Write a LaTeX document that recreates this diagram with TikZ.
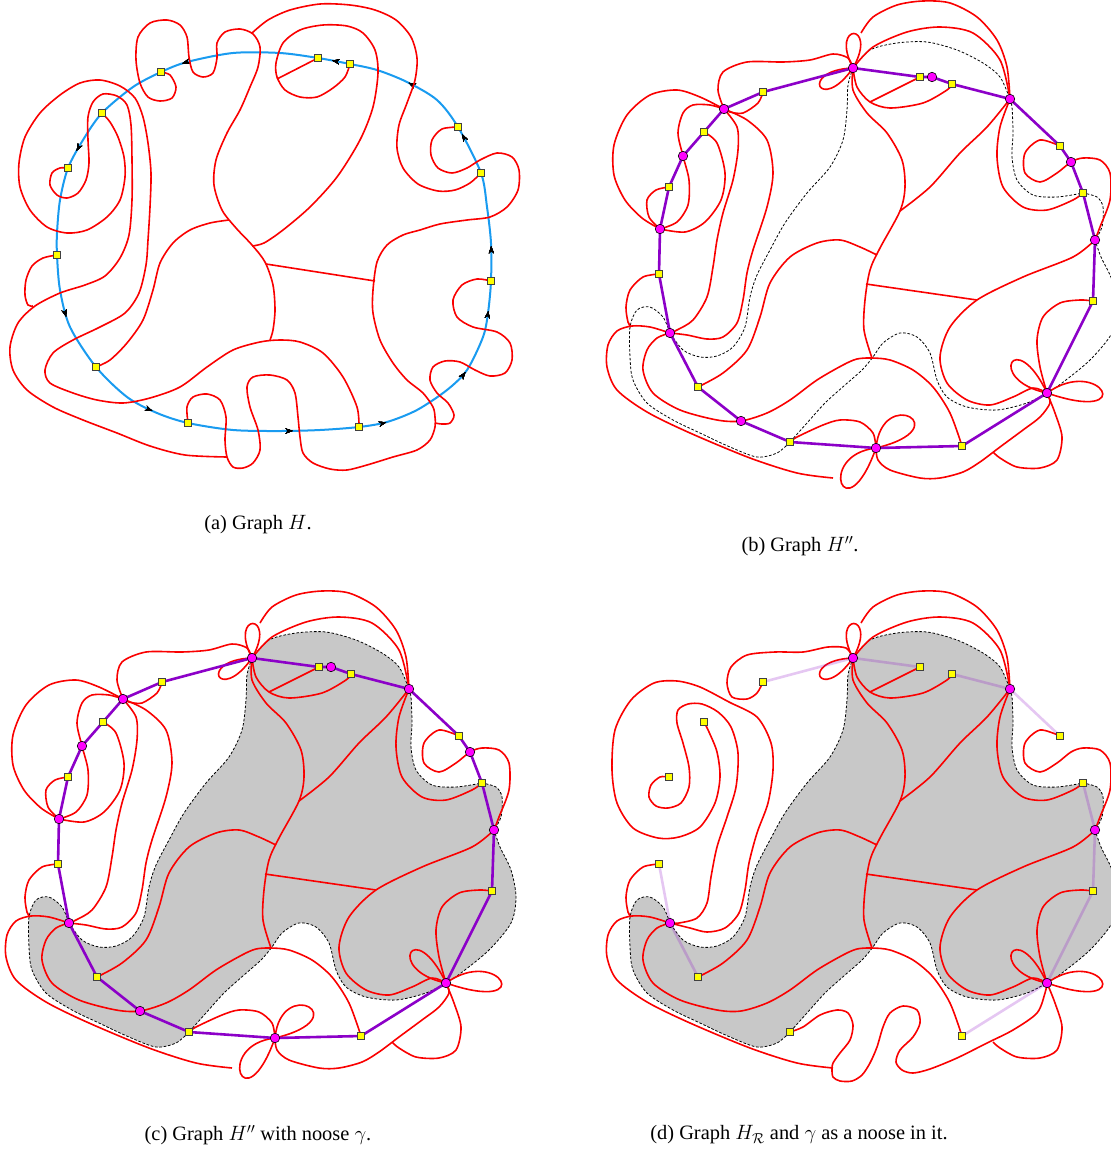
\documentclass[tikz,border=0pt]{standalone}
\usepackage{fontspec}
\setmainfont{Liberation Serif}
\usetikzlibrary{arrows.meta,decorations.markings}

\definecolor{edgered}{RGB}{250,0,0}
\definecolor{cycblue}{RGB}{25,155,240}
\definecolor{walkpurple}{RGB}{140,0,200}
\definecolor{noosegray}{RGB}{200,200,200}
\definecolor{vertpink}{RGB}{255,0,255}
\definecolor{sqyellow}{RGB}{255,255,0}

\tikzset{
  redc/.style={draw=edgered, line width=1.6pt},
  bluec/.style={draw=cycblue, line width=2pt},
  purpe/.style={draw=walkpurple, line width=2.6pt, line join=round},
  faintpurp/.style={draw=walkpurple, line width=2.6pt, draw opacity=0.22},
  noosel/.style={draw=black, line width=0.8pt, dash pattern=on 2.6pt off 1.8pt},
  pinkv/.style={circle, draw=black, fill=vertpink, inner sep=0pt, minimum size=9.5pt, line width=0.6pt},
  ysq/.style={rectangle, draw=black!75, fill=sqyellow, inner sep=0pt, minimum size=7pt, line width=0.6pt},
  capt/.style={font=\fontsize{20.4}{24}\selectfont, inner sep=0pt},
  tip/.style={decoration={markings,
    mark=at position #1 with {\arrow{Stealth[length=7pt,width=5pt,black]}}}, postaction={decorate}},
}

% vertex positions of the walk graph (panel frame of H'')
\newcommand\DefVerts[1]{%
  \coordinate (#1T) at (853,68);   \coordinate (#1y1) at (763,92);
  \coordinate (#1A) at (724,109);  \coordinate (#1y2) at (704,132);
  \coordinate (#1B) at (683,156);  \coordinate (#1y3) at (669,187);
  \coordinate (#1C) at (660,229);  \coordinate (#1y4) at (659,274);
  \coordinate (#1D) at (670,333);  \coordinate (#1y5) at (698,387);
  \coordinate (#1E) at (741,421);  \coordinate (#1y6) at (790,442);
  \coordinate (#1F) at (876,448);  \coordinate (#1y7) at (962,446);
  \coordinate (#1G) at (1047,393); \coordinate (#1y8) at (1093,301);
  \coordinate (#1H) at (1095,240); \coordinate (#1y12) at (1083,193);
  \coordinate (#1K) at (1071,162); \coordinate (#1y11) at (1060,146);
  \coordinate (#1J) at (1010,99);  \coordinate (#1y10) at (952,84);
  \coordinate (#1I) at (932,77);   \coordinate (#1y9) at (920,77);}

% the noose gamma
\newcommand\NoosePath{%
  plot[smooth] coordinates {(853,68) (848,85) (847,110) (843,140) (830,167) (807,193) (785,223) (770,250) (757,275) (750,297) (745,327) (733,347) (717,356) (700,357) (683,350) (670,333)}
  -- plot[smooth] coordinates {(670,333) (663,317) (650,307) (637,310) (630,327) (630,357) (633,380) (647,403) (673,420) (700,433) (730,447) (757,457) (777,453) (790,442)}
  -- plot[smooth] coordinates {(790,442) (807,423) (825,403) (845,385) (862,370) (873,357) (883,343) (900,333) (917,337) (930,353) (937,380) (947,397) (967,407) (997,410) (1027,403) (1047,393)}
  -- plot[smooth] coordinates {(1047,393) (1062,383) (1090,360) (1112,333) (1117,307) (1112,280) (1101,257) (1095,240)}
  -- plot[smooth] coordinates {(1095,240) (1102,227) (1103,207) (1097,197) (1083,193)}
  -- plot[smooth] coordinates {(1083,193) (1057,197) (1033,195) (1017,180) (1012,157) (1013,133) (1012,107) (1010,99)}
  -- plot[smooth] coordinates {(1010,99) (1000,77) (983,63) (957,50) (927,42) (897,43) (870,50) (853,68)}
  -- cycle}

% red edges shared by H'' and H_R
\newcommand\RedCommon{%
  \draw[redc] (853,68) .. controls (829,22) and (879,22) .. (853,68);
  \draw[redc] plot[smooth] coordinates {(861,33) (873,17) (897,5) (923,1) (950,3) (977,17) (997,40) (1007,67) (1010,99)};
  \draw[redc] plot[smooth] coordinates {(853,68) (873,47) (907,32) (940,27) (973,33) (1000,60) (1010,99)};
  \draw[redc] (853,68) .. controls (798,70) and (820,115) .. (853,68);
  \draw[redc] plot[smooth] coordinates {(853,68) (857,87) (870,102) (890,108) (923,103) (947,90) (952,84)};
  \draw[redc] (920,77) -- (870,102);
  \draw[redc] plot[smooth] coordinates {(853,68) (853,90) (867,113) (887,133) (902,160) (905,187) (900,211) (880,248) (870,270) (865,300) (864,330) (872,358)};
  \draw[redc] plot[smooth] coordinates {(1010,99) (987,127) (960,153) (930,187) (900,211)};
  \draw[redc] plot[smooth] coordinates {(1010,99) (1000,127) (997,157) (1003,187) (1023,207) (1047,210) (1073,200) (1083,193)};
  \draw[redc] plot[smooth] coordinates {(1060,146) (1040,140) (1025,153) (1025,173) (1040,182) (1057,173) (1071,162) (1083,158) (1100,160) (1110,173) (1110,200) (1100,227) (1095,240)};
  \draw[redc] plot[smooth] coordinates {(1095,240) (1073,257) (1023,277) (977,300) (950,327) (940,357) (947,383) (967,400) (990,405) (1013,397) (1033,388) (1047,393)};
  \draw[redc] (866,284) -- (977,300);
  \draw[redc] plot[smooth] coordinates {(1047,393) (1040,367) (1037,340) (1043,317) (1060,303) (1080,300) (1093,301)};
  \draw[redc] (1047,393) .. controls (985,380) and (1015,325) .. (1047,393);
  \draw[redc] (1047,393) .. controls (1100,355) and (1140,425) .. (1047,393);
  \draw[redc] plot[smooth] coordinates {(1047,393) (1055,413) (1062,437) (1057,460) (1040,468) (1017,467) (1000,458) (993,452)};
  \draw[redc] plot[smooth] coordinates {(670,333) (657,338) (647,350) (643,370) (653,393) (680,410) (717,420) (741,421) (767,413) (790,400) (817,380) (843,365) (857,359) (872,358) (890,360) (913,370) (933,387) (950,413) (962,446)};
  \draw[redc] plot[smooth] coordinates {(698,387) (723,373) (747,350) (760,317) (770,283) (790,257) (817,243) (840,240) (860,247) (877,255)};
  \draw[redc] plot[smooth] coordinates {(670,333) (650,327) (632,326) (617,331) (608,345) (607,367) (617,390) (647,412) (690,433) (750,458) (797,473) (833,478)};
  \draw[redc] plot[smooth] coordinates {(659,274) (643,277) (630,290) (626,307) (628,322) (631,327)};
}

% red edges of H'' only
\newcommand\RedFull{%
  \draw[redc] plot[smooth] coordinates {(724,109) (700,97) (677,90) (650,95) (627,115) (614,145) (614,175) (625,200) (642,218) (660,229)};
  \draw[redc] plot[smooth] coordinates {(724,109) (710,105) (693,105) (683,113) (678,133) (683,156) (689,180) (688,205) (677,222) (660,229)};
  \draw[redc] plot[smooth] coordinates {(660,229) (649,217) (647,200) (656,190) (669,187)};
  \draw[redc] plot[smooth] coordinates {(704,132) (717,143) (725,173) (721,200) (705,222) (685,232) (660,229)};
  \draw[redc] plot[smooth] coordinates {(763,92) (758,103) (743,113) (730,112) (724,109)};
  \draw[redc] plot[smooth] coordinates {(724,109) (718,90) (723,72) (747,62) (783,62) (810,60) (833,54) (848,58) (853,68)};
  \draw[redc] plot[smooth] coordinates {(724,109) (737,127) (738,150) (733,180) (723,213) (717,240) (713,267) (707,297) (693,320) (677,330) (670,333)};
  \draw[redc] plot[smooth] coordinates {(724,109) (747,120) (767,140) (773,173) (767,207) (753,250) (747,273) (743,300) (737,323) (723,337) (707,339) (687,335) (670,333)};
  \draw[redc] (876,448) .. controls (882,385) and (960,428) .. (876,448);
  \draw[redc] (876,448) .. controls (815,455) and (845,535) .. (876,448);
  \draw[redc] plot[smooth] coordinates {(790,442) (797,437) (823,425) (840,420) (860,422) (873,433) (876,448)};
  \draw[redc] plot[smooth] coordinates {(876,448) (878,460) (890,470) (920,478) (940,478) (963,472) (980,462) (1000,447) (1023,430) (1040,417) (1050,403) (1047,393)};
}

% red edges of H_R only
\newcommand\RedReduced{%
  \draw[redc] plot[smooth] coordinates {(763,92) (757,103) (747,109) (732,107) (727,93) (731,77) (747,65) (775,62) (803,62) (828,57) (846,58) (853,68)};
  \draw[redc] plot[smooth] coordinates {(704,132) (709,142) (717,162) (720,187) (715,213) (700,237) (679,247) (658,248) (633,238) (617,213) (612,180) (615,140) (631,110) (654,93) (677,91) (700,97) (729,112) (757,127) (771,153) (773,180) (768,213) (757,243) (749,273) (745,300) (739,323) (725,338) (707,342) (690,338) (670,333)};
  \draw[redc] plot[smooth] coordinates {(669,187) (660,187) (651,195) (649,207) (656,216) (668,218) (681,213) (689,197) (689,177) (683,153) (677,133) (678,120) (688,114) (702,114) (718,122) (731,137) (738,163) (736,197) (727,227) (717,257) (711,287) (707,313) (697,328) (679,333) (670,333)};
  \draw[redc] plot[smooth] coordinates {(790,442) (803,437) (820,425) (837,420) (848,423) (853,435) (850,450) (840,463) (833,473) (832,479) (833,487) (840,491) (852,491) (862,485) (870,473) (877,457) (883,437) (890,423) (903,416) (917,420) (920,433) (913,447) (900,460) (896,472) (902,480) (913,483) (930,479) (957,468) (987,453) (1013,440) (1037,423) (1045,403) (1047,393)};
}

\newcommand\WalkCycle[1]{%
  \draw[purpe] (#1T) -- (#1y1) -- (#1A) -- (#1y2) -- (#1B) -- (#1y3) -- (#1C) -- (#1y4) -- (#1D) -- (#1y5) -- (#1E) -- (#1y6) -- (#1F) -- (#1y7) -- (#1G) -- (#1y8) -- (#1H) -- (#1y12) -- (#1K) -- (#1y11) -- (#1J) -- (#1y10) -- (#1I) -- (#1y9) -- cycle;}

\newcommand\AllMarks[1]{%
  \foreach \v in {y1,y2,y3,y4,y5,y6,y7,y8,y9,y10,y11,y12} {\node[ysq] (#1\v m) at (#1\v) {};}
  \foreach \v in {T,A,B,C,D,E,F,G,H,K,J,I} {\node[pinkv] (#1\v m) at (#1\v) {};}}

\begin{document}
\begin{tikzpicture}[x=1pt,y=-1pt]
\useasboundingbox (0,0) rectangle (1111,1149);
\clip (0,0) rectangle (1111,1149);
\fill[white] (0,0) rectangle (1111,1149);

% ---------------- (a) graph H ----------------
\draw[bluec, tip=137pt, tip=278pt, tip=448pt, tip=579pt, tip=722pt, tip=816pt,
      tip=911pt, tip=977pt, tip=1042pt, tip=1159pt, tip=1235pt, tip=1315pt]
  plot[smooth cycle] coordinates {(350,64) (318,58) (280,53) (233,53) (187,62) (161,72) (133,87) (102,113) (83,140) (68,168) (60,200) (57,233) (57,255) (60,290) (70,327) (96,367) (127,397) (157,413) (188,423) (233,430) (280,431) (320,430) (359,427) (387,422) (417,410) (447,390) (467,370) (483,337) (488,313) (491,281) (491,243) (487,207) (481,173) (458,127) (437,100) (407,82) (377,70)};

\draw[redc] plot[smooth] coordinates {(102,113) (110,122) (118,137) (124,157) (125,177) (120,200) (107,217) (87,230) (67,233) (47,227) (30,210) (20,187) (19,163) (25,137) (40,113) (60,95) (80,83) (100,80) (120,86) (135,98) (143,117) (148,143) (151,173) (150,207) (148,240) (146,265) (139,293) (125,313) (100,327) (73,340) (53,353) (45,370) (50,383) (73,393) (97,400) (123,403) (150,398) (180,387) (207,367) (233,350) (260,342) (280,340) (300,342) (323,353) (343,377) (357,407) (359,427)};
\draw[redc] plot[smooth] coordinates {(68,168) (60,168) (52,173) (50,185) (57,195) (67,198) (78,193) (86,180) (89,163) (88,140) (88,117) (93,102) (103,94) (117,96) (127,105) (131,125) (132,160) (132,200) (129,235) (120,258) (105,276) (85,285) (60,293) (35,306) (18,323) (10,347) (13,370) (27,390) (53,407) (83,420) (117,433) (150,446) (185,455) (227,457)};
\draw[redc] plot[smooth] coordinates {(161,72) (170,75) (176,87) (172,98) (160,101) (148,97) (140,83) (136,60) (138,37) (150,23) (167,20) (180,25) (187,37) (189,57) (193,72) (203,77) (213,73) (217,58) (217,43) (225,32) (240,29) (253,34) (260,47) (258,67) (250,87) (240,110) (227,133) (216,160) (214,185) (222,210) (236,228) (252,245) (265,262) (273,285) (275,310) (273,330) (270,340)};
\draw[redc] plot[smooth] coordinates {(481,173) (470,183) (455,190) (438,191) (418,184) (403,168) (397,148) (399,125) (407,103) (415,80) (417,58) (411,37) (396,20) (375,10) (350,5) (320,4) (290,10) (268,20) (252,33)};
\draw[redc] plot[smooth] coordinates {(350,64) (345,77) (333,88) (317,97) (300,97) (285,90) (277,77) (276,63) (283,43) (300,30) (323,25) (347,26) (363,33) (375,50) (378,73) (373,107) (360,140) (337,177) (310,207) (283,230) (264,243) (252,246)};
\draw[redc] (318,58) -- (277,79);
\draw[redc] plot[smooth] coordinates {(96,367) (110,360) (127,343) (143,320) (153,290) (160,263) (173,243) (190,230) (210,223) (229,220)};
\draw[redc] (266,264) -- (375,281);
\draw[redc] plot[smooth] coordinates {(188,423) (187,407) (193,397) (207,394) (220,400) (226,417) (225,440) (227,457) (233,467) (243,468) (253,463) (260,450) (258,430) (250,407) (247,387) (253,377) (270,375) (287,380) (295,393) (298,417) (300,437) (303,453) (313,463) (330,469) (347,470) (367,465) (393,457) (417,450) (430,440) (435,427) (435,417) (433,407) (423,393) (407,380) (393,363) (380,340) (373,313) (373,290) (377,262) (387,245) (403,235) (420,230) (440,224) (467,220) (490,217) (507,207) (518,190) (519,170) (512,157) (497,153) (480,160) (467,168) (452,173) (438,168) (431,155) (432,140) (442,129) (458,127)};
\draw[redc] plot[smooth] coordinates {(491,281) (477,279) (462,285) (453,300) (457,317) (473,327) (497,332) (510,343) (512,360) (505,373) (490,376) (475,370) (460,362) (445,361) (433,367) (430,380) (437,393) (448,403) (454,415) (450,423) (442,424) (435,423)};
\draw[redc] plot[smooth] coordinates {(57,255) (43,258) (32,266) (26,280) (25,295) (28,305) (33,306)};

\node[ysq] (a1) at (161,72) {};  \node[ysq] (a2) at (102,113) {};
\node[ysq] (a3) at (68,168) {};  \node[ysq] (a4) at (318,58) {};
\node[ysq] (a5) at (350,64) {};  \node[ysq] (a6) at (458,127) {};
\node[ysq] (a7) at (481,173) {}; \node[ysq] (a8) at (57,255) {};
\node[ysq] (a9) at (96,367) {};  \node[ysq] (a10) at (188,423) {};
\node[ysq] (a11) at (491,281) {}; \node[ysq] (a12) at (359,427) {};

\node[capt] (capa) at (258,525) {(a) Graph $H$.};

% ---------------- (b) graph H'' ----------------
\begin{scope}
  \DefVerts{b}
  \draw[noosel] \NoosePath;
  \RedCommon
  \RedFull
  \WalkCycle{b}
  \AllMarks{b}
\end{scope}
\node[capt] (capb) at (800,546) {(b) Graph $H''$.};

% ---------------- (c) H'' with the noose ----------------
\begin{scope}[shift={(-601,590)}]
  \DefVerts{c}
  \fill[noosegray] \NoosePath;
  \draw[noosel] \NoosePath;
  \RedCommon
  \RedFull
  \WalkCycle{c}
  \AllMarks{c}
\end{scope}
\node[capt] (capc) at (258,1135) {(c) Graph $H''$ with noose $\gamma$.};

% ---------------- (d) H_R with the noose ----------------
\begin{scope}[shift={(0,590)}]
  \DefVerts{d}
  \fill[noosegray] \NoosePath;
  \draw[noosel] \NoosePath;
  \RedCommon
  \RedReduced
  \draw[faintpurp] (dT) -- (dy1);  \draw[faintpurp] (dT) -- (dy9);
  \draw[faintpurp] (dy10) -- (dJ); \draw[faintpurp] (dJ) -- (dy11);
  \draw[faintpurp] (dy12) -- (dH); \draw[faintpurp] (dH) -- (dy8);
  \draw[faintpurp] (dy8) -- (dG);  \draw[faintpurp] (dG) -- (dy7);
  \draw[faintpurp] (dy4) -- (dD);  \draw[faintpurp] (dD) -- (dy5);
  \foreach \v in {y1,y2,y3,y4,y5,y6,y7,y8,y9,y10,y11,y12} {\node[ysq] (d\v m) at (d\v) {};}
  \foreach \v in {T,D,G,H,J} {\node[pinkv] (d\v m) at (d\v) {};}
\end{scope}
\node[capt] (capd) at (799,1135) {(d) Graph $H_{\mathcal{R}}$ and $\gamma$ as a noose in it.};
\end{tikzpicture}
\end{document}
